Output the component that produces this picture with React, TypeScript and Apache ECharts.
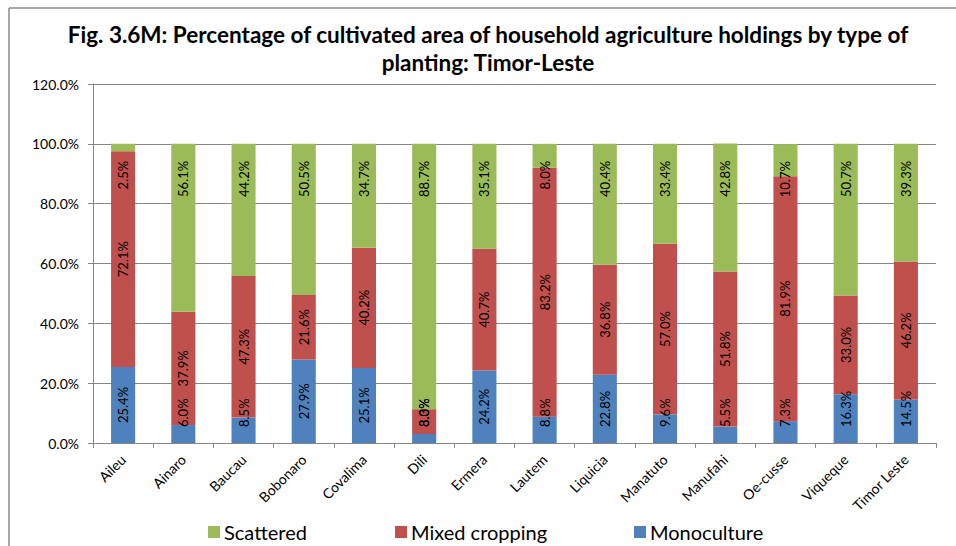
import React, { useEffect, useRef } from "react";
import * as echarts from "echarts";

const categories = [
  "Aileu", "Ainaro", "Baucau", "Bobonaro", "Covalima", "Dili", "Ermera",
  "Lautem", "Liquicia", "Manatuto", "Manufahi", "Oe-cusse", "Viqueque", "Timor Leste",
];
const monoculture = [25.4, 6.0, 8.5, 27.9, 25.1, 3.0, 24.2, 8.8, 22.8, 9.6, 5.5, 7.3, 16.3, 14.5];
const mixedCropping = [72.1, 37.9, 47.3, 21.6, 40.2, 8.3, 40.7, 83.2, 36.8, 57.0, 51.8, 81.9, 33.0, 46.2];
const scattered = [2.5, 56.1, 44.2, 50.5, 34.7, 88.7, 35.1, 8.0, 40.4, 33.4, 42.8, 10.7, 50.7, 39.3];
const legendNames = ["Scattered", "Mixed cropping", "Monoculture"];
const yTicks = { min: 0, max: 120, interval: 20 };

const TITLE = "Fig. 3.6M: Percentage of cultivated area of household agriculture holdings by type of\nplanting: Timor-Leste";

const W = 956;
const H = 546;
const GRID_LEFT = 93;
const GRID_RIGHT = 936;
const GRID_TOP = 84;
const GRID_BOTTOM = 443;
const FONT = "Lato, 'Open Sans', sans-serif";
const LEGEND_LEFTS = [203, 390, 629];

export default function App() {
  const ref = useRef<HTMLDivElement>(null);
  useEffect(() => {
    if (!ref.current) return;
    const chart = echarts.init(ref.current, undefined, { renderer: "svg" });
    const labelBottomLimit = GRID_BOTTOM - 16;

    const pct = (v: number) => v.toFixed(1) + "%";
    const mkSeries = (name: string, data: number[], color: string) => ({
      name,
      type: "bar",
      stack: "total",
      data,
      barCategoryGap: "60%",
      itemStyle: { color },
      label: {
        show: true,
        position: "inside",
        rotate: 90,
        formatter: (p: any) => pct(p.value),
        fontFamily: FONT,
        fontSize: 13,
        color: "#000",
      },
    });

    chart.setOption({
      animation: false,
      textStyle: { fontFamily: FONT },
      graphic: [
        {
          type: "line",
          shape: { x1: 9, y1: 8, x2: 9, y2: H },
          style: { stroke: "#8a8a8a", lineWidth: 1.5 },
        },
        {
          type: "line",
          shape: { x1: 9, y1: 8, x2: W, y2: 8 },
          style: { stroke: "#8a8a8a", lineWidth: 1.5 },
        },
        {
          type: "text",
          x: 488,
          y: 20,
          style: {
            text: TITLE,
            textAlign: "center",
            textVerticalAlign: "top",
            font: "bold 22.5px " + FONT,
            lineHeight: 28,
            fill: "#000",
          },
        },
      ],
      legend: legendNames.map((n, i) => ({
        data: [n],
        left: LEGEND_LEFTS[i],
        top: 517,
        itemWidth: 12,
        itemHeight: 12,
        itemGap: 0,
        icon: "rect",
        textStyle: { fontSize: 20, color: "#000", fontFamily: FONT, padding: [0, 0, 0, -1] },
      })),
      grid: {
        left: GRID_LEFT,
        right: W - GRID_RIGHT,
        top: GRID_TOP,
        bottom: H - GRID_BOTTOM,
        containLabel: false,
      },
      xAxis: {
        type: "category",
        data: categories,
        axisLine: { lineStyle: { color: "#868686", width: 1 } },
        axisTick: { show: true, length: 5, lineStyle: { color: "#868686" } },
        axisLabel: {
          interval: 0,
          rotate: 45,
          margin: 14,
          fontSize: 14,
          color: "#000",
          fontFamily: FONT,
        },
      },
      yAxis: {
        type: "value",
        min: yTicks.min,
        max: yTicks.max,
        interval: yTicks.interval,
        axisLine: { show: true, lineStyle: { color: "#868686", width: 1 } },
        axisTick: { show: true, length: 5, lineStyle: { color: "#868686" } },
        splitLine: { show: true, lineStyle: { color: "#868686", width: 1 } },
        axisLabel: {
          formatter: (v: number) => pct(v),
          margin: 14,
          fontSize: 14,
          color: "#000",
          fontFamily: FONT,
        },
      },
      labelLayout: (params: any) => {
        const r = params.rect;
        const lr = params.labelRect;
        // label is rotated 90deg: local +x points up on screen
        if (params.seriesIndex === 2) {
          const down = r.y + 17 - lr.y;
          return { dx: -down };
        }
        if (lr.y + lr.height > labelBottomLimit) {
          const up = lr.y + lr.height - labelBottomLimit;
          return { dx: up };
        }
        return {};
      },
      series: [
        mkSeries("Monoculture", monoculture, "#4F81BD"),
        mkSeries("Mixed cropping", mixedCropping, "#C0504D"),
        mkSeries("Scattered", scattered, "#9BBB59"),
      ],
    });
    return () => chart.dispose();
  }, []);
  return (
    <div
      ref={ref}
      style={{ position: "fixed", left: 0, top: 0, width: W, height: H, background: "#fff" }}
    />
  );
}
